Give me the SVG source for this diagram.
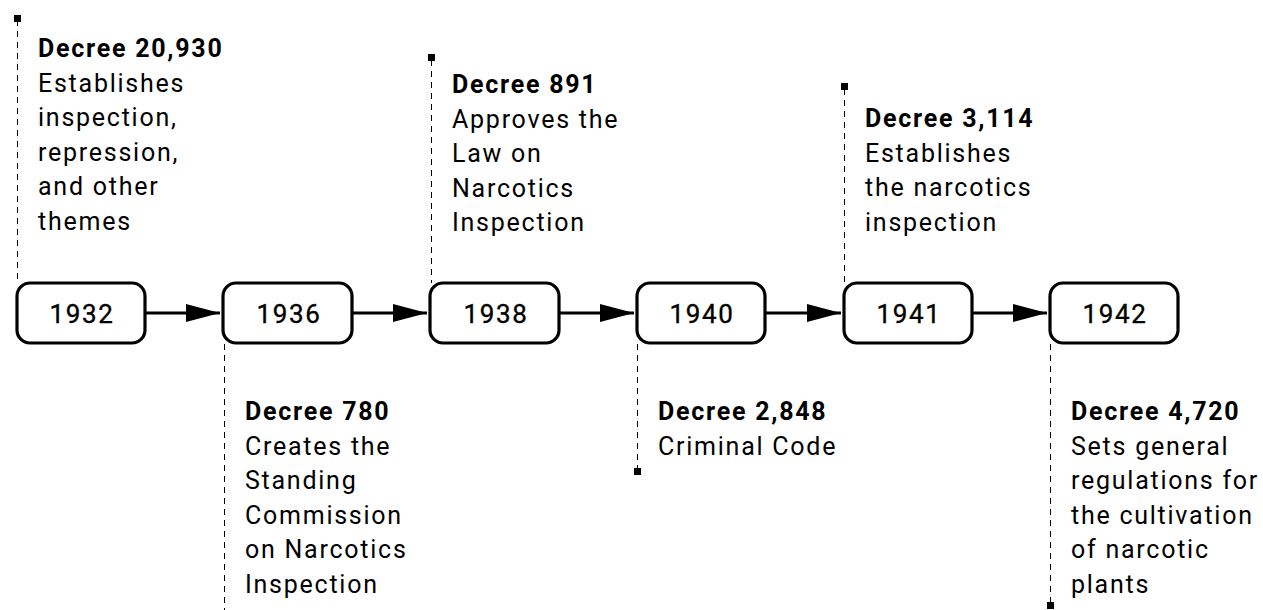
<svg xmlns="http://www.w3.org/2000/svg" width="1263" height="610" viewBox="0 0 1263 610">
<defs>
<marker id="arr" markerWidth="36" markerHeight="22" refX="34" refY="11" orient="auto" markerUnits="userSpaceOnUse">
<path d="M0,2 L34,11 L0,20 Z" fill="#000"/>
</marker>
<style>
.box{fill:#fff;stroke:#000;stroke-width:3.2}
.yr{font-family:Roboto,"Liberation Sans",sans-serif;font-size:26px;letter-spacing:1.6px;text-anchor:middle;fill:#000;stroke:#000;stroke-width:0.35}
.t{font-family:Roboto,"Liberation Sans",sans-serif;font-size:25px;letter-spacing:1.75px;fill:#000}
.b{font-weight:bold}
.dash{stroke:#000;stroke-width:1;stroke-dasharray:6,5;fill:none}
.conn{stroke:#000;stroke-width:3;fill:none}
</style>
</defs>
<g id="connectors">
<line class="conn" x1="146" y1="313" x2="220" y2="313" marker-end="url(#arr)"/>
<line class="conn" x1="353" y1="313" x2="427" y2="313" marker-end="url(#arr)"/>
<line class="conn" x1="560" y1="313" x2="634" y2="313" marker-end="url(#arr)"/>
<line class="conn" x1="766" y1="313" x2="841" y2="313" marker-end="url(#arr)"/>
<line class="conn" x1="973" y1="313" x2="1047" y2="313" marker-end="url(#arr)"/>
<line class="dash" x1="17.5" y1="20" x2="17.5" y2="283"/>
<rect x="14" y="15" width="7" height="7"/>
<line class="dash" x1="224.5" y1="344" x2="224.5" y2="610"/>
<line class="dash" x1="431.5" y1="60" x2="431.5" y2="283"/>
<rect x="428" y="54" width="7" height="7"/>
<line class="dash" x1="637.5" y1="344" x2="637.5" y2="470"/>
<rect x="634" y="468" width="7" height="7"/>
<line class="dash" x1="844.5" y1="89" x2="844.5" y2="283"/>
<rect x="841" y="83" width="7" height="7"/>
<line class="dash" x1="1050.5" y1="344" x2="1050.5" y2="603"/>
<rect x="1047" y="602" width="7" height="7"/>
</g>
<g id="n1932">
<rect class="box" x="17" y="283" width="128" height="60" rx="13"/>
<text class="yr" x="82" y="323">1932</text>
<text class="t" x="38" y="57"><tspan class="b">Decree 20,930</tspan><tspan x="38" dy="34.5">Establishes</tspan><tspan x="38" dy="34.5">inspection,</tspan><tspan x="38" dy="34.5">repression,</tspan><tspan x="38" dy="34.5">and other</tspan><tspan x="38" dy="34.5">themes</tspan></text>
</g>
<g id="n1936">
<rect class="box" x="223" y="283" width="129" height="60" rx="13"/>
<text class="yr" x="289" y="323">1936</text>
<text class="t" x="245" y="420"><tspan class="b">Decree 780</tspan><tspan x="245" dy="34.5">Creates the</tspan><tspan x="245" dy="34.5">Standing</tspan><tspan x="245" dy="34.5">Commission</tspan><tspan x="245" dy="34.5">on Narcotics</tspan><tspan x="245" dy="34.5">Inspection</tspan></text>
</g>
<g id="n1938">
<rect class="box" x="430" y="283" width="129" height="60" rx="13"/>
<text class="yr" x="496" y="323">1938</text>
<text class="t" x="452" y="93"><tspan class="b">Decree 891</tspan><tspan x="452" dy="34.5">Approves the</tspan><tspan x="452" dy="34.5">Law on</tspan><tspan x="452" dy="34.5">Narcotics</tspan><tspan x="452" dy="34.5">Inspection</tspan></text>
</g>
<g id="n1940">
<rect class="box" x="637" y="283" width="128" height="60" rx="13"/>
<text class="yr" x="702" y="323">1940</text>
<text class="t" x="658" y="420"><tspan class="b">Decree 2,848</tspan><tspan x="658" dy="34.5">Criminal Code</tspan></text>
</g>
<g id="n1941">
<rect class="box" x="844" y="283" width="128" height="60" rx="13"/>
<text class="yr" x="909" y="323">1941</text>
<text class="t" x="865" y="127"><tspan class="b">Decree 3,114</tspan><tspan x="865" dy="34.5">Establishes</tspan><tspan x="865" dy="34.5">the narcotics</tspan><tspan x="865" dy="34.5">inspection</tspan></text>
</g>
<g id="n1942">
<rect class="box" x="1050" y="283" width="128" height="60" rx="13"/>
<text class="yr" x="1115" y="323">1942</text>
<text class="t" x="1071" y="420"><tspan class="b">Decree 4,720</tspan><tspan x="1071" dy="34.5">Sets general</tspan><tspan x="1071" dy="34.5">regulations for</tspan><tspan x="1071" dy="34.5">the cultivation</tspan><tspan x="1071" dy="34.5">of narcotic</tspan><tspan x="1071" dy="34.5">plants</tspan></text>
</g>
</svg>
